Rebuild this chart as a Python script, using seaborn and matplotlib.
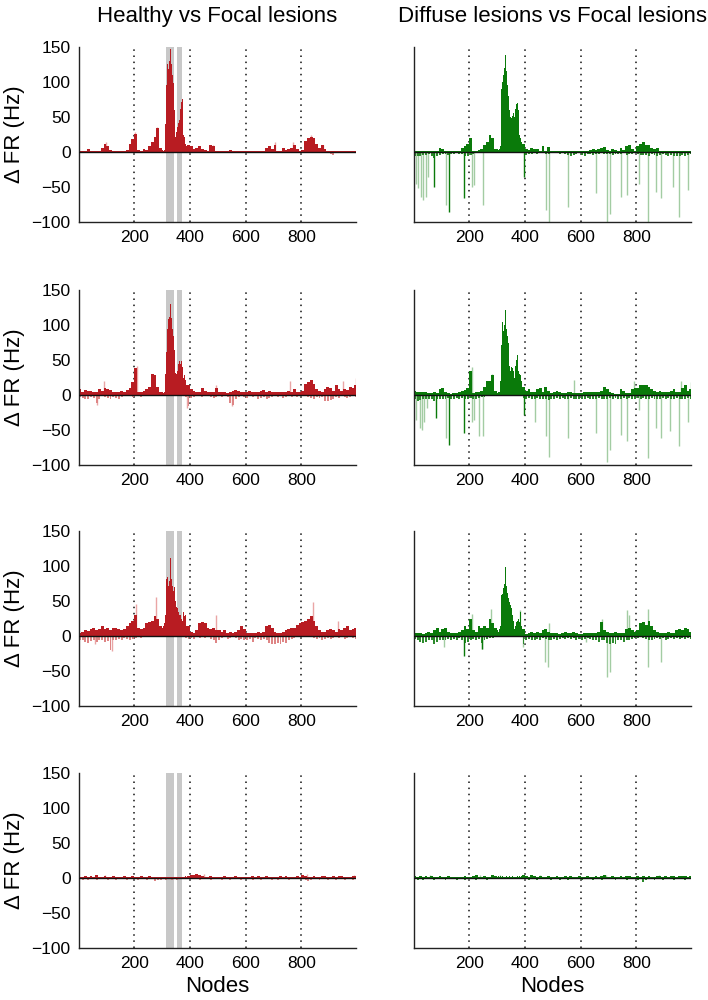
import numpy as np
import pandas as pd
import matplotlib
matplotlib.use("Agg")
import matplotlib.pyplot as plt
import seaborn as sns

# ---------------- DATA ----------------
# firing-rate difference per node
# coarse values: one per 10-node bin (bin centres 5, 15, ..., 995)
# core values: nodes 300-390 in 3-node steps (the lesioned area), bins 30-38 of the coarse lists are 0 there
bin_nodes = np.arange(5, 1000, 10)
core_nodes = np.arange(301.5, 390, 3)
node_ticks = [200, 400, 600, 800]
lesion_spans = [(314, 343), (355, 373)]
col_titles = ["Healthy vs Focal lesions", "Diffuse lesions vs Focal lesions"]

# row 1, healthy vs focal
pos_L1 = [1, 1, 1, 4, 1, 1, 1, 1, 6, 12,
          9, 3, 2, 1, 1, 1, 1, 3, 12, 18,
          26, 3, 2, 5, 3, 8, 15, 22, 34, 6,
          0, 0, 0, 0, 0, 0, 0, 0, 0, 10,
          8, 4, 6, 8, 5, 3, 2, 10, 8, 1,
          1, 1, 1, 1, 3, 1, 1, 1, 1, 1,
          1, 1, 1, 1, 2, 1, 1, 6, 8, 5,
          10, 2, 2, 6, 3, 4, 6, 10, 4, 1,
          3, 16, 20, 22, 20, 12, 6, 10, 5, 2,
          2, 1, 1, 1, 1, 1, 1, 1, 1, 1]
neg_L1 = [-1, -1, -2, -1, -1, -1, -1, -1, -1, -1,
          -1, -1, -1, -1, -1, -1, -1, -1, -1, -1,
          -1, -1, -1, -1, -1, -1, -1, -1, -1, -1,
          0, 0, 0, 0, 0, 0, 0, 0, -1, -2,
          -2, -1, -1, -1, -1, -1, -1, -1, -1, -1,
          -1, -1, -1, -1, -1, -1, -1, -1, -1, -1,
          -1, -1, -1, -1, -1, -1, -1, -1, -1, -1,
          -1, -1, -1, -1, -1, -1, -1, -1, -1, -1,
          -1, -1, -1, -1, -1, -1, -1, -1, -2, -1,
          -3, -4, -2, -1, -1, -1, -1, -1, -1, -1]
core_L1 = [3, 2, 3, 4, 40, 95, 125, 118, 130, 145, 147, 125, 110, 98, 60,
           25, 22, 28, 35, 42, 45, 55, 62, 72, 75, 25, 22, 18, 12, 8]
spk_L1_x = [100, 204, 281, 482, 705, 771, 836, 876]
spk_L1_y = [15, 28, 35, 10, 14, 15, 24, 10]

# row 1, diffuse vs focal
pos_R1 = [1, 1, 1, 1, 1, 1, 1, 1, 2, 6,
          4, 2, 1, 1, 1, 1, 1, 6, 8, 12,
          20, 2, 1, 3, 5, 10, 14, 25, 20, 5,
          0, 0, 0, 0, 0, 0, 0, 0, 0, 12,
          5, 3, 6, 4, 5, 2, 8, 2, 7, 2,
          1, 1, 1, 1, 1, 1, 2, 2, 2, 2,
          1, 2, 1, 3, 5, 3, 5, 6, 7, 3,
          2, 4, 3, 2, 6, 3, 8, 10, 4, 2,
          8, 12, 14, 10, 10, 6, 4, 6, 2, 2,
          2, 1, 2, 1, 1, 1, 1, 1, 1, 1]
neg_R1 = [-5, -6, -5, -4, -4, -3, -6, -8, -5, -4,
          -3, -3, -4, -3, -3, -2, -3, -3, -5, -6,
          -4, -3, -2, -2, -2, -1, -1, -1, -1, -1,
          0, 0, 0, 0, 0, 0, 0, 0, 0, -2,
          -4, -3, -3, -2, -3, -2, -2, -3, -3, -2,
          -2, -2, -3, -2, -3, -4, -5, -4, -3, -2,
          -4, -5, -3, -3, -4, -3, -3, -2, -3, -3,
          -3, -4, -3, -3, -3, -2, -4, -3, -3, -2,
          -3, -4, -4, -4, -5, -3, -4, -5, -4, -3,
          -4, -5, -4, -5, -6, -5, -4, -5, -4, -3]
core_R1 = [4, 3, 5, 6, 8, 90, 100, 110, 120, 105, 138, 115, 95, 80, 60,
           45, 50, 48, 52, 55, 50, 45, 62, 68, 70, 60, 25, 22, 20, 15]
spk_R1_x = [9, 18, 27, 36, 44, 54, 116, 210, 216, 248, 474, 486, 555, 656, 693,
            704, 744, 766, 808, 843, 872, 888, 930, 954, 984]
spk_R1_y = [-45, -52, -64, -69, -64, -35, -76, -50, -47, -76, -83, -100, -78, -59, -100,
            -88, -64, -62, -45, -100, -57, -66, -50, -93, -54]
dspk_R1_x = [75, 129, 183, 396]
dspk_R1_y = [-50, -85, -66, -35]

# row 2, healthy vs focal
pos_L2 = [8, 5, 7, 6, 6, 5, 4, 9, 6, 10,
          9, 7, 5, 5, 4, 6, 5, 7, 10, 18,
          38, 4, 5, 6, 8, 12, 30, 28, 12, 5,
          0, 0, 0, 0, 0, 0, 0, 0, 0, 15,
          8, 6, 5, 4, 10, 6, 5, 4, 5, 10,
          5, 4, 4, 3, 5, 6, 7, 6, 4, 4,
          5, 6, 5, 4, 4, 6, 7, 5, 6, 5,
          4, 5, 5, 4, 5, 6, 5, 8, 4, 4,
          6, 16, 18, 22, 16, 8, 6, 5, 8, 12,
          10, 6, 14, 8, 6, 9, 7, 12, 10, 15]
neg_L2 = [-3, -4, -5, -6, -3, -4, -12, -5, -2, -3,
          -4, -5, -3, -4, -6, -3, -2, -2, -2, -3,
          -2, -2, -3, -2, -2, -2, -2, -2, -2, -2,
          -1, -1, -1, -1, -1, -1, -1, -2, -3, -16,
          -4, -3, -2, -2, -3, -2, -2, -3, -4, -3,
          -2, -3, -2, -3, -12, -14, -5, -3, -2, -3,
          -4, -2, -3, -2, -5, -4, -3, -6, -4, -3,
          -2, -3, -2, -4, -3, -2, -3, -2, -3, -2,
          -2, -2, -3, -4, -5, -3, -4, -3, -8, -9,
          -7, -5, -3, -4, -2, -3, -4, -3, -2, -3]
core_L2 = [5, 3, 4, 6, 30, 62, 95, 108, 112, 120, 130, 110, 95, 85, 65,
           35, 32, 30, 35, 45, 48, 50, 45, 48, 40, 25, 28, 24, 22, 15]
spk_L2_x = [90, 210, 492, 760, 950, 995, 66, 390, 552]
spk_L2_y = [20, 42, 14, 20, 20, 25, -14, -19, -15]

# row 2, diffuse vs focal
pos_R2 = [6, 4, 5, 4, 4, 3, 3, 4, 3, 8,
          10, 4, 3, 2, 3, 3, 4, 6, 7, 10,
          35, 3, 4, 5, 6, 12, 20, 20, 28, 6,
          0, 0, 0, 0, 0, 0, 0, 0, 0, 12,
          6, 8, 5, 4, 9, 10, 4, 12, 6, 3,
          5, 6, 4, 3, 3, 5, 5, 3, 3, 3,
          3, 4, 4, 4, 5, 4, 5, 6, 12, 8,
          4, 3, 2, 2, 8, 6, 3, 3, 8, 10,
          10, 14, 15, 14, 12, 8, 6, 4, 6, 5,
          4, 5, 6, 8, 4, 5, 10, 14, 6, 8]
neg_R2 = [-6, -8, -7, -6, -5, -6, -5, -8, -6, -5,
          -6, -5, -4, -6, -5, -4, -5, -4, -6, -5,
          -4, -5, -6, -4, -3, -3, -2, -2, -2, -2,
          -1, -1, -1, -1, -1, -1, -1, -1, -2, -4,
          -5, -4, -6, -5, -4, -5, -6, -5, -7, -6,
          -5, -4, -5, -4, -6, -5, -4, -5, -6, -5,
          -6, -5, -4, -5, -6, -5, -4, -5, -6, -5,
          -4, -5, -4, -6, -5, -4, -5, -4, -6, -5,
          -4, -5, -4, -5, -6, -4, -5, -6, -5, -4,
          -5, -4, -6, -5, -4, -5, -6, -5, -4, -5]
core_R2 = [3, 4, 5, 6, 20, 72, 105, 92, 100, 110, 122, 95, 85, 75, 42,
           30, 35, 40, 38, 35, 25, 32, 42, 50, 57, 35, 30, 25, 28, 20]
spk_R2_x = [9, 24, 30, 39, 48, 116, 210, 216, 234, 248, 435, 474, 486, 555, 656,
            693, 704, 744, 768, 810, 843, 872, 888, 920, 954, 984,
            576, 792, 960, 996, 282, 210]
spk_R2_y = [-35, -47, -50, -38, -18, -62, -38, -35, -59, -59, -38, -59, -88, -62, -54,
            -95, -78, -57, -65, -21, -90, -47, -62, -52, -73, -38,
            22, 20, 20, 18, 30, 40]
dspk_R2_x = [80, 129, 183, 396]
dspk_R2_y = [-33, -72, -54, -28]

# row 3, healthy vs focal
pos_L3 = [5, 6, 8, 7, 10, 12, 8, 10, 14, 10,
          12, 9, 11, 12, 10, 8, 10, 14, 18, 22,
          30, 12, 10, 12, 18, 20, 22, 28, 25, 15,
          0, 0, 0, 0, 0, 0, 0, 0, 0, 15,
          6, 5, 8, 18, 20, 18, 12, 10, 12, 8,
          8, 6, 8, 5, 6, 5, 6, 8, 14, 10,
          5, 4, 5, 4, 6, 5, 6, 15, 16, 12,
          6, 4, 5, 6, 8, 10, 12, 12, 16, 18,
          20, 22, 25, 28, 22, 15, 8, 6, 6, 8,
          10, 8, 6, 10, 8, 12, 14, 8, 10, 12]
neg_L3 = [-5, -6, -8, -10, -7, -6, -8, -5, -6, -8,
          -7, -20, -6, -5, -4, -5, -3, -4, -5, -4,
          -3, -2, -3, -2, -2, -2, -2, -2, -2, -2,
          -1, -1, -1, -1, -1, -1, -2, -2, -3, -4,
          -3, -4, -2, -3, -2, -3, -2, -4, -6, -10,
          -5, -3, -2, -4, -3, -2, -3, -5, -4, -6,
          -5, -4, -8, -3, -4, -5, -4, -6, -10, -12,
          -12, -10, -11, -8, -10, -6, -4, -3, -2, -2,
          -2, -2, -2, -2, -3, -4, -3, -5, -4, -3,
          -4, -3, -2, -3, -2, -4, -3, -2, -3, -4]
core_L3 = [12, 15, 18, 20, 30, 82, 85, 72, 78, 92, 112, 82, 72, 65, 70,
           55, 50, 42, 40, 35, 30, 28, 30, 25, 22, 35, 28, 38, 30, 15]
spk_L3_x = [207, 279, 492, 840, 930, 120, 60]
spk_L3_y = [46, 56, 30, 49, 22, -22, -12]

# row 3, diffuse vs focal
pos_R3 = [5, 4, 4, 3, 4, 6, 4, 8, 12, 6,
          10, 12, 6, 4, 5, 4, 6, 8, 15, 10,
          25, 8, 6, 15, 12, 15, 12, 25, 18, 12,
          0, 0, 0, 0, 0, 0, 0, 0, 0, 10,
          3, 4, 6, 5, 6, 4, 8, 10, 6, 4,
          5, 4, 3, 4, 6, 5, 4, 6, 4, 3,
          3, 4, 5, 4, 5, 4, 6, 20, 8, 6,
          4, 5, 6, 4, 5, 5, 10, 12, 8, 6,
          8, 18, 20, 16, 22, 14, 8, 6, 5, 4,
          5, 6, 4, 5, 8, 10, 8, 12, 10, 6]
neg_R3 = [-4, -6, -8, -10, -8, -6, -5, -12, -8, -6,
          -5, -6, -4, -5, -4, -5, -3, -6, -10, -8,
          -6, -4, -5, -4, -10, -6, -4, -3, -3, -2,
          -1, -1, -1, -1, -1, -1, -1, -1, -2, -12,
          -5, -4, -6, -5, -4, -5, -3, -4, -6, -5,
          -4, -5, -4, -3, -4, -3, -4, -3, -5, -4,
          -5, -4, -3, -4, -5, -6, -8, -6, -5, -10,
          -12, -10, -12, -6, -5, -8, -6, -5, -4, -3,
          -3, -2, -3, -4, -6, -5, -4, -3, -4, -3,
          -5, -4, -3, -4, -3, -4, -3, -4, -3, -4]
core_R3 = [8, 6, 10, 12, 15, 58, 60, 68, 75, 88, 99, 72, 62, 55, 48,
           52, 45, 40, 30, 22, 10, 8, 15, 20, 22, 25, 20, 28, 35, 15]
spk_R3_x = [108, 246, 393, 472, 484, 618, 694, 704, 843, 888,
            210, 279, 768, 775, 843, 486, 678, 384]
spk_R3_y = [-16, -18, -16, -37, -44, -9, -58, -52, -44, -37,
            32, 39, 37, 30, 39, 18, 24, 37]
dspk_R3_x = [183, 246]
dspk_R3_y = [-28, -18]

# row 4, healthy vs focal
pos_L4 = [2, 2, 3, 2, 3, 2, 4, 2, 2, 3,
          2, 2, 3, 2, 2, 2, 3, 2, 2, 3,
          2, 2, 3, 2, 2, 3, 2, 2, 2, 2,
          0, 0, 0, 0, 0, 0, 0, 0, 0, 3,
          4, 5, 6, 5, 3, 2, 2, 3, 2, 2,
          2, 2, 3, 2, 2, 2, 3, 2, 2, 2,
          2, 2, 3, 2, 3, 2, 2, 3, 2, 2,
          2, 2, 3, 2, 3, 2, 2, 2, 3, 2,
          4, 3, 2, 2, 3, 2, 2, 3, 3, 2,
          2, 3, 2, 3, 3, 2, 2, 2, 3, 3]
neg_L4 = [-2, -3, -2, -3, -2, -2, -3, -2, -2, -2,
          -3, -2, -2, -3, -2, -2, -2, -3, -2, -2,
          -2, -3, -2, -2, -3, -2, -2, -4, -3, -3,
          -2, -3, -2, -3, -2, -3, -2, -2, -2, -2,
          -2, -2, -2, -3, -2, -2, -2, -3, -2, -2,
          -2, -3, -2, -2, -3, -2, -2, -2, -3, -2,
          -2, -2, -3, -2, -2, -3, -2, -2, -2, -3,
          -2, -3, -2, -2, -2, -3, -2, -2, -2, -2,
          -2, -3, -4, -3, -2, -2, -3, -2, -2, -3,
          -2, -2, -3, -2, -2, -3, -2, -2, -3, -2]
core_L4 = [2, 1, 2, 1, 2, 1, 2, 2, 1, 2, 1, 2, 1, 2, 1,
           2, 2, 1, 2, 1, 2, 1, 2, 2, 1, 2, 1, 2, 3, 2]
spk_L4_x = [95, 450, 820, 990]
spk_L4_y = [5, 6, 6, 5]

# row 4, diffuse vs focal
pos_R4 = [3, 2, 3, 2, 3, 2, 3, 2, 2, 3,
          2, 2, 3, 2, 2, 2, 2, 2, 3, 2,
          2, 3, 4, 2, 2, 3, 2, 2, 4, 3,
          0, 0, 0, 0, 0, 0, 0, 0, 0, 4,
          3, 2, 4, 3, 2, 3, 2, 2, 3, 2,
          2, 3, 2, 2, 3, 2, 3, 2, 2, 3,
          2, 2, 3, 2, 2, 3, 2, 3, 4, 2,
          2, 3, 2, 2, 3, 2, 3, 3, 2, 2,
          3, 2, 3, 2, 3, 2, 2, 3, 3, 2,
          3, 2, 3, 3, 2, 3, 3, 3, 2, 3]
neg_R4 = [-2, -3, -2, -3, -2, -2, -2, -3, -2, -2,
          -2, -3, -2, -2, -2, -3, -2, -2, -3, -2,
          -2, -2, -3, -2, -2, -2, -3, -2, -2, -2,
          -2, -2, -2, -2, -2, -2, -2, -2, -2, -2,
          -2, -3, -2, -2, -3, -2, -2, -2, -2, -3,
          -2, -2, -3, -2, -2, -3, -2, -2, -2, -2,
          -3, -2, -2, -2, -3, -2, -2, -3, -2, -2,
          -2, -2, -3, -2, -2, -2, -3, -2, -2, -2,
          -3, -2, -5, -3, -2, -2, -3, -2, -2, -3,
          -2, -2, -2, -3, -2, -2, -2, -3, -2, -2]
core_R4 = [2, 3, 2, 2, 3, 2, 3, 2, 2, 3, 2, 3, 2, 2, 3,
           3, 2, 2, 3, 2, 2, 3, 2, 2, 3, 2, 3, 2, 2, 3]
spk_R4_x = [60, 240, 310, 455, 690, 880]
spk_R4_y = [5, 5, 5, 5, 4, 4]

# ---------------- STYLE ----------------
sns.set_theme(style="white")
plt.rcParams['font.family'] = ['Liberation Sans', 'DejaVu Sans']
plt.rcParams['text.color'] = 'black'
plt.rcParams['axes.labelcolor'] = 'black'
plt.rcParams['xtick.color'] = 'black'
plt.rcParams['ytick.color'] = 'black'

red_dark, red_mid, red_light = "#b81c22", "#de8585", "#eaa5a5"
green_dark, green_mid, green_light = "#0a7a0a", "#2c8a2c", "#a3cca3"


def draw_panel(ax, pos, neg, core, spk_x, spk_y, dspk_x, dspk_y, dark, mid, light, lesion):
    if lesion:
        for a, b in lesion_spans:
            ax.axvspan(a, b, color="#c8c8c8", lw=0, zorder=0)
    for n in node_ticks:
        ax.axvline(n, color="#111111", ls=(0, (1, 3)), lw=1.1, zorder=0.5)

    ax.vlines(spk_x, 0, spk_y, color=light, lw=1.0, zorder=1)

    # coarse bins outside the lesioned stretch
    coarse = pd.DataFrame({"node": bin_nodes, "val": pos})
    coarse = coarse[(coarse["node"] < 300) | (coarse["node"] > 390)]
    sns.barplot(data=coarse, x="node", y="val", native_scale=True, orient="x",
                color=dark, width=1, saturation=1, errorbar=None, linewidth=0,
                zorder=2, ax=ax)
    low = pd.DataFrame({"node": bin_nodes, "val": neg})
    sns.barplot(data=low, x="node", y="val", native_scale=True, orient="x",
                color=mid, width=0.7, saturation=1, errorbar=None, linewidth=0,
                zorder=2, ax=ax)
    fine = pd.DataFrame({"node": core_nodes, "val": core})
    sns.barplot(data=fine, x="node", y="val", native_scale=True, orient="x",
                color=dark, width=1, saturation=1, errorbar=None, linewidth=0,
                zorder=2, ax=ax)

    if dspk_x:
        ax.vlines(dspk_x, 0, dspk_y, color=dark, lw=1.0, zorder=2.5)
    ax.axhline(0, color="#111111", lw=1, zorder=3)

    ax.set_xlim(2, 996)
    ax.set_ylim(-100, 150)
    ax.set_xticks(node_ticks)
    ax.set_xticklabels([str(t) for t in node_ticks])
    ax.set_yticks([-100, -50, 0, 50, 100, 150])
    ax.tick_params(length=0, labelsize=12.5, pad=6, colors="black")
    ax.set_xlabel("")
    ax.set_ylabel("")
    sns.despine(ax=ax)
    for s in ["left", "bottom"]:
        ax.spines[s].set_color("#222222")
        ax.spines[s].set_linewidth(1)


panels = [
    [(pos_L1, neg_L1, core_L1, spk_L1_x, spk_L1_y, [], []),
     (pos_R1, neg_R1, core_R1, spk_R1_x, spk_R1_y, dspk_R1_x, dspk_R1_y)],
    [(pos_L2, neg_L2, core_L2, spk_L2_x, spk_L2_y, [], []),
     (pos_R2, neg_R2, core_R2, spk_R2_x, spk_R2_y, dspk_R2_x, dspk_R2_y)],
    [(pos_L3, neg_L3, core_L3, spk_L3_x, spk_L3_y, [], []),
     (pos_R3, neg_R3, core_R3, spk_R3_x, spk_R3_y, dspk_R3_x, dspk_R3_y)],
    [(pos_L4, neg_L4, core_L4, spk_L4_x, spk_L4_y, [], []),
     (pos_R4, neg_R4, core_R4, spk_R4_x, spk_R4_y, [], [])],
]

fig = plt.figure(figsize=(7.08, 10), dpi=100)
row_tops = [47, 290, 531, 773]
col_lefts = [79, 414]
ax_w, ax_h = 277, 175

for r, row in enumerate(panels):
    for c, p in enumerate(row):
        ax = fig.add_axes([col_lefts[c] / 708, 1 - (row_tops[r] + ax_h) / 1000,
                           ax_w / 708, ax_h / 1000])
        if c == 0:
            draw_panel(ax, *p, red_dark, red_mid, red_light, True)
            ax.set_ylabel("\u0394 FR (Hz)", fontsize=16, labelpad=5)
        else:
            draw_panel(ax, *p, green_dark, green_mid, green_light, False)
            ax.tick_params(labelleft=False)
        if r == 0:
            ax.set_title(col_titles[c], fontsize=16, pad=18)
        if r == 3:
            ax.set_xlabel("Nodes", fontsize=16, labelpad=3)

fig.savefig("out.png", dpi=100)
